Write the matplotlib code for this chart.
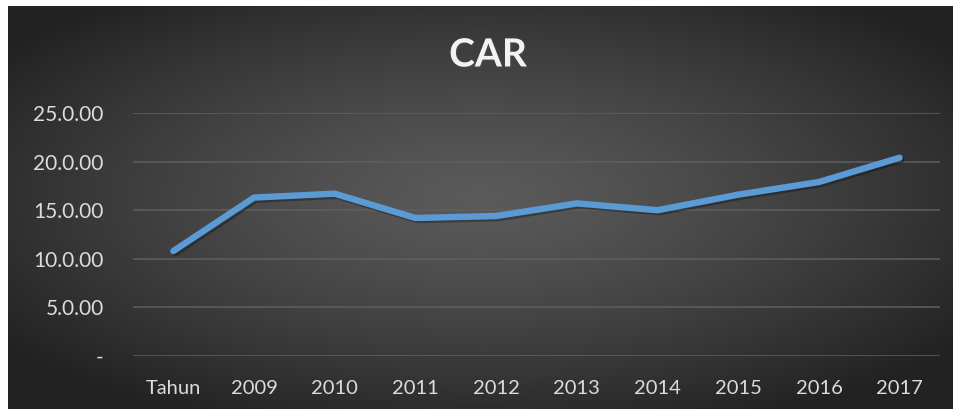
import numpy as np
import matplotlib
matplotlib.use("Agg")
import matplotlib.pyplot as plt
import matplotlib.patheffects as pe

# data
categories = ["Tahun", "2009", "2010", "2011", "2012", "2013", "2014", "2015", "2016", "2017"]
car_values = [10.8, 16.3, 16.7, 14.2, 14.4, 15.7, 15.0, 16.6, 17.9, 20.4]
y_ticks = [0, 5, 10, 15, 20, 25]
y_tick_labels = ["-", "5.0.00", "10.0.00", "15.0.00", "20.0.00", "25.0.00"]

plt.rcParams["font.family"] = ["Lato", "DejaVu Sans"]

W, H = 960, 412
fig = plt.figure(figsize=(W / 100, H / 100), dpi=100)
fig.patch.set_facecolor("white")

# dark radial-gradient chart area
bg = fig.add_axes([8 / W, 1 - 409 / H, (953 - 8) / W, (409 - 6) / H])
bg.set_axis_off()
gx, gy = np.meshgrid(np.linspace(-1, 1, 400), np.linspace(-1, 1, 200))
r = np.sqrt(gx ** 2 + (gy + 0.05) ** 2) / 1.25
r = np.clip(r, 0, 1)
inner, outer = 0x5a / 255, 0x22 / 255
shade = inner + (outer - inner) * r ** 1.3
bg.imshow(np.dstack([shade, shade, shade]), aspect="auto", extent=[0, 1, 0, 1])
bg.set_xlim(0, 1)
bg.set_ylim(0, 1)

ax = fig.add_axes([133 / W, 1 - 356 / H, (940 - 133) / W, (356 - 113) / H])
ax.patch.set_alpha(0)
x = np.arange(len(categories))
ax.plot(x, car_values, color="#5B9BD5", linewidth=4.6, solid_capstyle="round",
        solid_joinstyle="round",
        path_effects=[pe.SimpleLineShadow(offset=(1.5, -1.5), shadow_color="black", alpha=0.3),
                      pe.Normal()], zorder=3)

ax.set_xlim(-0.5, len(categories) - 0.5)
ax.set_ylim(0, 25)
ax.set_yticks(y_ticks)
ax.set_yticklabels(y_tick_labels)
ax.set_xticks(x)
ax.set_xticklabels(categories)
ax.grid(axis="y", color="#5f5f5f", linewidth=1.1)
ax.set_axisbelow(True)
for s in ax.spines.values():
    s.set_visible(False)
ax.tick_params(axis="y", length=0, pad=21, labelsize=15, labelcolor="#dcdcdc")
ax.tick_params(axis="x", length=0, pad=17, labelsize=14.5, labelcolor="#dcdcdc")

fig.text(488 / W, 1 - 55 / H, "CAR", ha="center", va="center", fontsize=28,
         fontweight="bold", color="#f2f2f2",
         path_effects=[pe.withSimplePatchShadow(offset=(1.5, -1.5), alpha=0.5)])

fig.savefig("out.png", dpi=100, facecolor=fig.get_facecolor())
